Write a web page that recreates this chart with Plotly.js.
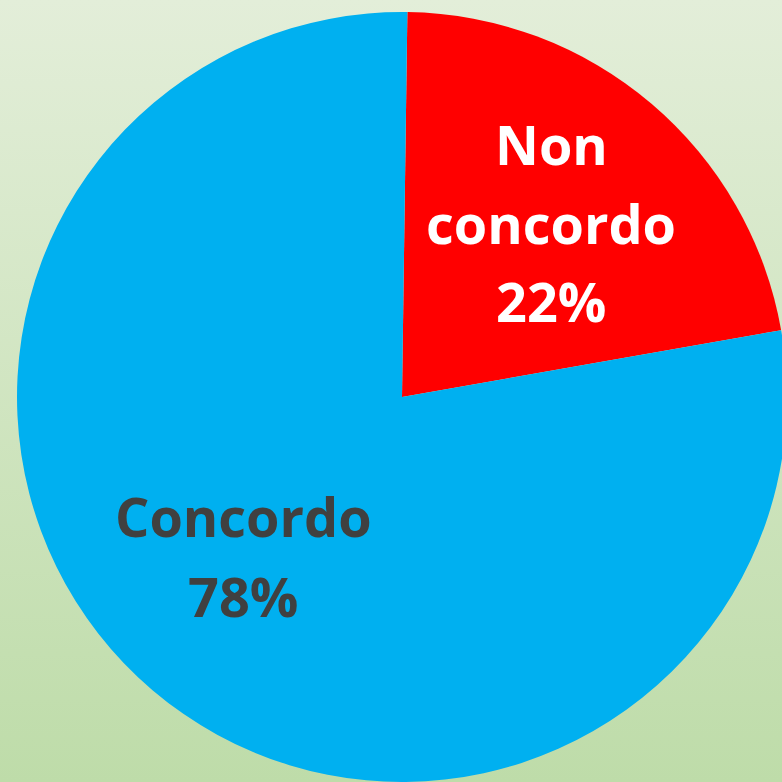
<!DOCTYPE html>
<html>
<head>
<meta charset="utf-8">
<script src="https://cdn.plot.ly/plotly-3.0.1.min.js"></script>
<style>
  html, body { margin: 0; padding: 0; overflow: hidden; }
  #wrap { position: relative; width: 782px; height: 782px; overflow: hidden;
          background: linear-gradient(to bottom, #e3eed9 0%, #bedca9 100%); }
  #chart { position: absolute; left: 0; top: 0; width: 800px; height: 800px; }
</style>
</head>
<body>
<div id="wrap"><div id="chart"></div></div>
<script>
// Data
var labels = ["Non concordo", "Concordo"];
var values = [22, 78];
var sliceColors = ["#FF0000", "#00B0F0"];
var textColors = ["#FFFFFF", "#404040"];

// Layout geometry
var W = 800, H = 800;
var M = {l: 17, t: 12, r: 13, b: 18};
var pw = W - M.l - M.r, ph = H - M.t - M.b;
function px2x(px) { return (px - M.l) / pw; }
function py2y(py) { return 1 - (py - M.t) / ph; }

var FONT = "Open Sans, Noto Sans, sans-serif";
var FS = 54;
// label block anchor positions (pixel centres and first-line baseline), line step
var blocks = [
  {cx: 551, baseline: 165, step: 78.5},
  {cx: 243, baseline: 537, step: 80}
];

var total = values.reduce(function (a, b) { return a + b; }, 0);
var annotations = [];
labels.forEach(function (lab, i) {
  var lines = (i === 0 ? lab.split(" ") : [lab]);
  lines.push(Math.round(values[i] / total * 100) + "%");
  var b = blocks[i];
  lines.forEach(function (ln, k) {
    var base = b.baseline + k * b.step;
    annotations.push({
      text: "<b>" + ln + "</b>",
      xref: "paper", yref: "paper",
      x: px2x(b.cx), y: py2y(base - 0.388 * FS),
      xanchor: "center", yanchor: "middle",
      showarrow: false,
      font: {family: FONT, size: FS, color: textColors[i]}
    });
  });
});

var trace = {
  type: "pie",
  labels: labels,
  values: values,
  sort: false,
  direction: "clockwise",
  rotation: 0.8,
  marker: {colors: sliceColors, line: {width: 0}},
  textinfo: "none",
  hoverinfo: "none",
  showlegend: false
};

var layout = {
  width: W, height: H,
  margin: M,
  paper_bgcolor: "rgba(0,0,0,0)",
  plot_bgcolor: "rgba(0,0,0,0)",
  showlegend: false,
  annotations: annotations
};

Plotly.newPlot("chart", [trace], layout, {displayModeBar: false, staticPlot: true});
</script>
</body>
</html>
